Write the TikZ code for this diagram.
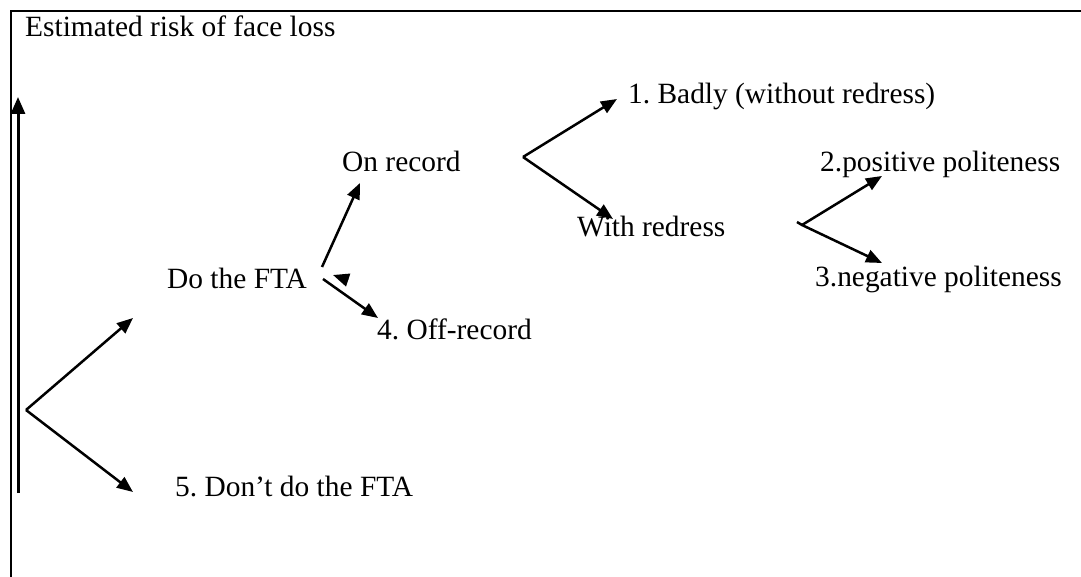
\documentclass[tikz,border=0pt]{standalone}
\usepackage{fontspec}
\setmainfont{Liberation Serif}
\frenchspacing
\usetikzlibrary{arrows.meta}
\tikzset{frame/.style={line width=2pt}}
\tikzset{branch/.style={line width=2.5pt,-{Triangle[length=16pt,width=13pt]}}}
\tikzset{riskarrow/.style={line width=3pt,-{Triangle[length=17pt,width=14pt]}}}
\tikzset{choice/.style={anchor=base west,inner sep=0pt,font=\fontsize{29.4}{35}\selectfont}}

\begin{document}
\begin{tikzpicture}[x=1pt,y=-1pt]
        \useasboundingbox (0,0) rectangle (1081,577);
        % open frame
        \coordinate (tl) at (11,11);
        \coordinate (tr) at (1081,11);
        \coordinate (bl) at (11,577);
        \draw[frame] (tr) -- (tl) -- (bl);
        \node[choice] (risk) at (25,37) {Estimated risk of face loss};
        % risk scale
        \coordinate (low) at (18,493);
        \coordinate (high) at (18,97);
        \draw[riskarrow] (low) -- (high);
        % first choice
        \coordinate (root) at (26,410);
        \coordinate (r1) at (133,318);
        \coordinate (r2) at (133,492);
        \node[choice] (do) at (167,288) {Do the FTA};
        \node[choice] (dont) at (175,496) {5. Don’t do the FTA};
            \draw[branch] (root) -- (r1);
            \draw[branch] (root) -- (r2);
        % on or off record
        \coordinate (d1) at (322,267);
        \coordinate (d1tip) at (360,183);
        \coordinate (d2) at (323,279);
        \coordinate (d2tip) at (378,318);
        \coordinate (stray) at (348,280);
        \coordinate (straytip) at (333,275);
        \node[choice] (on) at (342,172) {On record};
        \node[choice] (off) at (377,339) {4. Off-record};
            \draw[branch] (d1) -- (d1tip);
            \draw[branch] (d2) -- (d2tip);
            \draw[branch] (stray) -- (straytip);
        % with or without redress
        \coordinate (o) at (523,157);
        \coordinate (o1) at (617,99);
        \coordinate (o2) at (613,219);
        \node[choice] (badly) at (628,104) {1. Badly (without redress)};
        \node[choice] (with) at (577,237) {With redress};
            \draw[branch] (o) -- (o1);
            \draw[branch] (o) -- (o2);
        % kind of politeness
        \coordinate (w) at (802,225);
        \coordinate (wtick) at (797,222);
        \coordinate (w1) at (882,176);
        \coordinate (w2) at (882,263);
        \node[choice] (pos) at (820,172) {2.positive politeness};
        \node[choice] (neg) at (815,287) {3.negative politeness};
            \draw[branch] (w) -- (w1);
            \draw[branch] (wtick) -- (w) -- (w2);
\end{tikzpicture}
\end{document}
